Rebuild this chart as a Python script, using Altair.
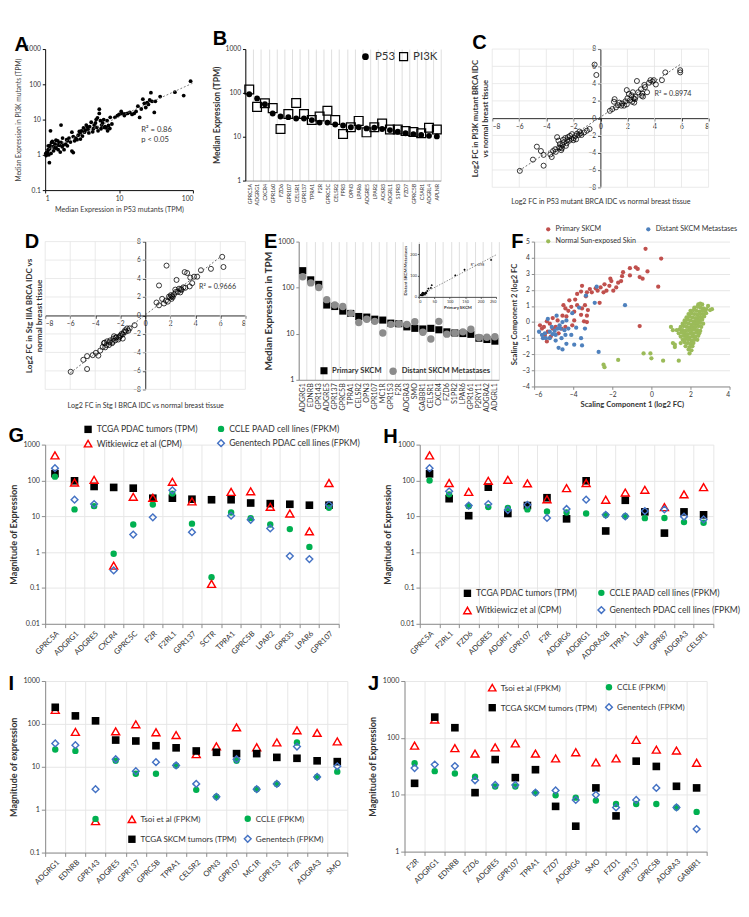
import altair as alt
import pandas as pd

# ---------------- Panel A (log-log scatter) ----------------
a_p53 = [93, 75, 57, 36, 27, 28, 31, 30, 21, 22, 24, 18, 20, 17, 19, 15, 13, 11, 10.7, 11.8,
         9.5, 8.8, 7.6, 10, 12, 14, 16, 25, 26, 23,
         6.9, 6.5, 7, 6.3, 5.4, 5.4, 5.1, 5.6, 5.8, 4.6, 4.2, 4, 3.8, 3.6, 3.4, 3.3, 3.1, 3, 2.8, 2.7,
         2.4, 2.3, 2.3, 2.4, 2.1, 2, 4.5, 5, 5.2, 4.8, 6, 7.2, 8, 7.5, 6.2, 4.4, 3.9, 3.5, 3.2, 2.9,
         2.6, 2.5, 3.7, 4.9, 5.7, 6.7, 3, 2.2,
         1.64, 1.72, 1.64, 1.56, 1.48, 1.41, 1.35, 1.28, 1.22, 1.16, 1.18, 1.1, 1.05, 1.03, 1.14, 1.8,
         1.9, 1.7, 1.6, 1.5, 1.45, 1.3, 1.25, 1.2, 1.1, 1.08, 1.15, 1.02, 1.06, 1.12, 1.35, 1.55, 1.75,
         1.95, 2.0, 1.4]
a_pi3k = [123, 48, 60, 45, 58, 33, 33, 16, 38, 29, 30, 24, 20, 17, 11.5, 14, 15, 15, 17, 13,
          13, 11.6, 11.6, 14, 14.5, 16, 15, 27, 36, 22,
          9.3, 6.3, 4.8, 6, 19.8, 15, 11.2, 9.3, 7, 7, 8.4, 6.3, 5.3, 7, 4.4, 5.8, 4.8, 4, 3.6, 2.7,
          3.3, 4.4, 1.28, 1.16, 3, 2.5, 5.5, 6, 4.8, 8, 8, 6.8, 7.5, 5.6, 10, 4.5, 4.2, 5, 3.4, 4.6,
          3, 2.5, 6.2, 10, 5.5, 5.8, 2.8, 2.3,
          7, 3, 2.25, 1.86, 2.5, 1.54, 2.05, 1.7, 2.25, 1.86, 4.8, 1.4, 1.06, 0.96, 0.6, 1.4,
          2, 1.7, 1.2, 1.4, 1.9, 1.3, 2.4, 1.1, 1.8, 1.2, 1.5, 1.1, 1.3, 1, 1.6, 2.2, 1.9,
          2.7, 1.8, 2.6]
a_note_text = ["R² = 0.86", "p < 0.05"]
a_note_x = [20, 20]
a_note_y = [5.0, 2.6]

# ---------------- Panel B ----------------
b_genes = ["GPRC5A", "ADGRG1", "CXCR4", "GPR160", "FZD6", "GPR107", "CELSR1", "GPR137", "TPRA1",
           "F2R", "GPRC5C", "CELSR2", "FPR3", "OPN3", "LPAR6", "ADGRE5", "LPAR2", "ACKR3", "ADGRL1",
           "S1PR3", "FZD7", "GPRC5B", "C5AR1", "ADGRL4", "APLNR"]
b_p53 = [93, 75, 55, 34, 29, 28, 26, 26, 24, 21, 21, 19, 18, 16.5, 16.5, 15.5, 16, 15, 14.2, 13,
         12, 11.5, 11, 10.5, 10.2]
b_pi3k = [120, 48, 58, 45, 15, 33, 59, 33, 24, 29, 39, 24, 11.5, 16.5, 23, 12.6, 16.5, 20, 14.7,
          14.7, 13.5, 12.8, 12, 16, 14.7]
b_series = ["P53", "PI3K"]

# ---------------- Panel C ----------------
c_x = [-5.96, -4.99, -4.7, -4.4, -4.2, -4.2, -3.7, -3.6, -3.5, -3.35, -3.2, -3.1, -3.05, -2.9, -2.8,
       -2.7, -2.55, -2.45, -2.4, -2.25, -2.15, -2.1, -1.97, -1.85, -1.73, -1.55, -1.4, -1.2, -1.0,
       -0.8, -2.95, -3.0, -2.75, -2.6, -2.3, -2.0, -1.8, -1.6, -1.45, -2.5, -3.3, -2.85,
       -0.43, -0.3, 0.7, 0.88, 1.0, 1.05, 1.15, 1.4, 1.55, 1.6, 1.75, 1.85, 1.95, 2.0, 2.1, 2.2, 2.3,
       2.4, 2.5, 2.55, 2.6, 2.7, 3.0, 3.1, 3.15, 3.25, 3.3, 3.45, 3.6, 3.7, 3.85, 3.95, 4.1, 4.55,
       4.8, 5.9, 5.9, 2.8, 2.35, 1.95, 1.3, 2.45, 3.05]
c_y = [-6.1, -4.8, -3.3, -3.8, -4.25, -5.5, -4.2, -4.5, -3.8, -3.6, -2.2, -2.6, -3.4, -3.7, -3.1,
       -2.8, -3.2, -2.55, -2.2, -2.05, -2.4, -1.85, -2.3, -2.05, -1.8, -1.55, -1.95, -1.65, -1.45,
       -1.25, -3.4, -3.0, -2.5, -2.3, -2.6, -2.55, -2.45, -1.95, -1.75, -2.9, -3.9, -3.5,
       6.2, 5.0, 0.85, 1.05, 1.9, 2.2, 1.25, 1.8, 1.45, 1.7, 1.45, 1.95, 3.25, 2.3, 2.8, 2.1, 2.65,
       3.0, 1.8, 2.2, 2.45, 4.3, 3.35, 2.85, 2.5, 3.85, 3.6, 3.0, 4.1, 4.4, 4.25, 4.4, 3.9, 4.4,
       5.3, 5.55, 5.3, 3.0, 1.9, 1.6, 1.5, 2.3, 2.6]
c_note = ["R² = 0.8974"]
c_note_x = [4.0]
c_note_y = [2.8]

# ---------------- Panel D ----------------
d_x = [-5.96, -4.95, -4.65, -4.65, -4.2, -3.95, -3.75, -3.6, -3.4, -3.3, -3.2, -3.05, -2.9, -2.8,
       -2.65, -2.55, -2.4, -2.3, -2.15, -2.05, -1.9, -1.8, -1.7, -1.6, -1.45, -1.35, -0.85, -3.1,
       -2.85, -2.6, -2.35, -2.1, -1.8, -1.55, -3.25, -2.5, -2.0, -1.25,
       0.9, 1.1, 1.1, 1.35, 1.5, 1.7, 1.8, 1.9, 2.0, 2.1, 2.15, 2.3, 2.4, 2.5, 2.6, 2.7, 2.8, 2.9,
       3.05, 3.15, 3.2, 3.35, 3.55, 3.75, 3.6, 3.9, 4.15, 4.45, 5.25, 6.15, 6.25, 2.2, 2.45, 2.85,
       1.65, 2.05]
d_y = [-6.1, -4.8, -4.4, -5.8, -4.3, -4.05, -4.35, -3.8, -3.4, -3.0, -3.45, -2.8, -3.2, -2.7,
       -3.0, -2.5, -2.7, -2.35, -2.6, -2.3, -2.0, -2.5, -1.8, -1.6, -1.4, -1.65, -1.05, -3.2,
       -2.9, -2.85, -2.4, -2.4, -2.05, -1.75, -2.95, -2.25, -2.2, -1.4,
       1.4, 1.1, 3.25, 1.8, 1.3, 5.4, 1.5, 2.05, 1.95, 1.8, 2.1, 2.3, 2.8, 3.85, 2.55, 2.9, 2.5, 2.75,
       3.05, 4.7, 3.0, 4.6, 3.15, 3.5, 4.1, 4.2, 4.2, 4.9, 5.05, 6.35, 5.25, 2.0, 2.55, 2.85,
       1.6, 2.2]
d_note = ["R² = 0.9666"]
d_note_x = [4.3]
d_note_y = [3.1]
fc_grid = [-8, -6, -4, -2, 2, 4, 6, 8]

# ---------------- Panel E ----------------
e_genes = ["ADGRG1", "EDNRB", "GPR143", "ADGRE5", "GPR137", "GPRC5B", "TPRA1", "CELSR2", "OPN3",
           "GPR107", "MC1R", "GPR153", "F2R", "ADGRA3", "SMO", "GABBR1", "CELSR1", "CXCR4", "FZD6",
           "S1PR2", "LPAR6", "GPR161", "P2RY11", "ADGRA2", "ADGRL1"]
e_primary = [234, 148, 118, 42, 39, 31, 27.6, 23.7, 23, 20.7, 19.8, 17, 16.5, 14.1, 13.1, 12.7,
             13.1, 12.2, 11, 10.4, 10.1, 9.7, 8, 7.5, 6.9]
e_distant = [173, 127, 101, 55, 42, 39, 27.6, 17.5, 20.7, 18.6, 10.4, 16, 16.5, 16, 18.3, 10.8,
             7.7, 18.6, 9.8, 10.4, 11, 12.5, 8.3, 8.4, 8.6]
e_series = ["Primary SKCM", "Distant SKCM Metastases"]
e_inset_note = ["R² = 0.98"]
e_inset_note_x = [190]
e_inset_note_y = [150]

# ---------------- Panel F ----------------
f_groups = ["Primary SKCM", "Distant SKCM Metastases", "Normal Sun-exposed Skin"]
f_red_x = [-0.3, 0.5, -0.8, -0.7, -1.1, -1.45, -1.1, -0.2, -0.6, -0.45, -1.5, -1.55, -1.7, -2.1,
           -2.05, -2.15, -2.4, -2.3, -2.45, -2.6, -2.75, -2.85, -3.15, -3.05, -3.3, -3.55, -3.6,
           -3.8, -3.35, -2.65, -1.95, -1.8, 0.35, -0.6, -4.5, -4.2, -3.9, -4.1, -3.8, -3.55, -3.4,
           -3.25, -3.3, -3.6, -3.95, -4.25, -4.4, -4.55, -4.8, -4.35, -3.95, -3.45, -3.3, -4.05,
           -4.4, -4.9, -5.2, -5.35, -5.05, -5.5, -5.7, -5.3, -5.15, -5.35, -4.6, -4.75, -5.05,
           -5.45, -5.6]
f_red_y = [4.55, 3.95, 3.4, 3.3, 3.35, 3.1, 2.9, 3.15, 2.8, 2.7, 2.85, 2.55, 2.45, 2.7, 2.55, 2.25,
           2.35, 1.95, 1.85, 2.15, 1.95, 2.1, 2.05, 1.85, 1.85, 2.25, 1.9, 1.75, 1.6, 1.2, 1.95,
           2.15, 2.2, -0.25, 1.05, 1.35, 1.4, 0.95, 1.05, 0.85, 1.05, 0.75, 0.4, 0.45, 0.65, 0.7,
           0.85, 0.4, 0.1, 0.35, 0.1, 0.05, 0.0, -0.2, -0.3, -0.3, -0.1, 0.05, 0.25, -0.3, -0.2,
           -0.6, -0.9, -1.2, -0.4, -0.7, -0.4, -0.8, -0.4]
f_blue_x = [-2.8, -1.35, -2.9, -3.35, -3.7, -4.05, -3.4, -3.85, -3.95, -3.55, -2.7, -4.35, -4.55,
            -4.75, -4.4, -4.25, -4.35, -4.55, -4.65, -4.8, -4.9, -4.9, -5.05, -5.2, -5.2, -5.45,
            -5.6, -5.75, -5.55, -5.4, -5.3, -4.85, -4.7, -4.45, -4.1, -4.6, -3.6, -5.1, -4.95]
f_blue_y = [2.2, 1.05, 1.2, 1.65, 0.9, 0.55, -0.4, -0.35, -1.4, -1.45, -1.85, -1.35, -1.7, -1.6,
            -0.8, -0.4, 0.1, 0.0, -0.4, -0.4, -0.8, -1.15, -0.75, -0.6, -1.0, -0.7, -0.8, -0.6,
            -1.0, -1.0, 0.2, 0.4, -0.2, -0.5, -0.8, -1.0, -1.0, -0.3, -0.55]
f_green_x = [2.4, 2.5, 2.6,
             2.2, 2.35, 2.5, 2.65, 2.8,
             2.0, 2.15, 2.3, 2.45, 2.6, 2.75, 3.0,
             1.9, 2.05, 2.2, 2.35, 2.5, 2.65, 2.8,
             1.8, 1.95, 2.1, 2.25, 2.4, 2.55, 2.7,
             1.7, 1.85, 2.0, 2.15, 2.3, 2.45, 2.6,
             1.6, 1.75, 1.9, 2.05, 2.2, 2.35, 2.5, 2.65,
             1.5, 1.65, 1.8, 1.95, 2.1, 2.25, 2.4, 2.55,
             1.3, 1.45, 1.6, 1.75, 1.9, 2.05, 2.2, 2.35, 2.5,
             1.4, 1.55, 1.7, 1.85, 2.0, 2.15, 2.3, 2.45,
             1.5, 1.65, 1.8, 1.95, 2.1, 2.25, 2.4,
             1.6, 1.75, 1.9, 2.05, 2.2, 2.35,
             1.5, 1.7, 1.85, 2.0, 2.15,
             1.75, 1.95, 2.1,
             1.9, 2.05,
             1.95,
             -2.45, -2.4, -1.7, -0.4, -0.05, 0.0, 0.6, 1.4, 1.1, 1.2, 1.1, 1.0, 3.1, 2.9, 1.2]
f_green_y = [1.1, 1.15, 1.1,
             0.9, 0.95, 0.9, 0.85, 0.8,
             0.7, 0.75, 0.7, 0.65, 0.7, 0.7, 0.75,
             0.5, 0.55, 0.5, 0.45, 0.5, 0.5, 0.55,
             0.3, 0.35, 0.3, 0.25, 0.3, 0.3, 0.35,
             0.1, 0.15, 0.1, 0.05, 0.1, 0.1, 0.15,
             -0.1, -0.05, -0.1, -0.15, -0.1, -0.1, -0.05, -0.1,
             -0.3, -0.25, -0.3, -0.35, -0.3, -0.3, -0.25, -0.3,
             -0.5, -0.45, -0.5, -0.55, -0.5, -0.5, -0.45, -0.5, -0.55,
             -0.7, -0.65, -0.7, -0.75, -0.7, -0.7, -0.65, -0.7,
             -0.9, -0.85, -0.9, -0.95, -0.9, -0.9, -0.85,
             -1.1, -1.05, -1.1, -1.15, -1.1, -1.1,
             -1.3, -1.25, -1.3, -1.35, -1.3,
             -1.5, -1.55, -1.5,
             -1.7, -1.75,
             -1.95,
             -2.65, -2.8, -2.35, -1.95, -1.95, -2.25, -2.4, -2.4, -1.3, -1.55, -0.5, -0.3, 0.8, 1.0, -1.4]

# ---------------- Panels G / H (PDAC) ----------------
pdac_series = ["TCGA PDAC tumors (TPM)", "CCLE PAAD cell lines (FPKM)",
               "Witkiewicz et al (CPM)", "Genentech PDAC cell lines (FPKM)"]
g_genes = ["GPRC5A", "ADGRG1", "ADGRE5", "CXCR4", "GPRC5C", "F2R", "F2RL1", "GPR137", "SCTR",
           "TPRA1", "GPRC5B", "LPAR2", "GPR35", "LPAR6", "GPR107"]
g_tcga = [155, 98, 68, 64, 61, 32, 32, 30, 29, 29, 23.5, 22.6, 21.7, 20.4, 20.4]
g_ccle = [128, 15.6, 19.2, 0.9, 5.9, 21.3, 43, 6.25, 0.2, 12.8, 8.9, 5.9, 4.4, 1.4, 17.4]
g_witk = [500, 88, 104, 0.42, 35, 33, 92, 26, 0.13, 48, 50, 18.4, 12, 3.8, 85]
g_gene = [220, 29, 22, 0.31, 3.1, 9.4, 53, 3.6, None, 10.4, 8, 4.6, 0.78, 0.64, 21]

h_genes = ["GPRC5A", "F2RL1", "FZD6", "ADGRE5", "ADGRF1", "GPR107", "F2R", "ADGRG6", "ADGRG1",
           "ADORA2B", "TPRA1", "LGR4", "GPR87", "ADGRA3", "CELSR1"]
h_tcga = [153, 31, 10.4, 65, 12, 20, 33, 8.5, 98, 3.9, 28, 13.3, 3.4, 13.3, 11]
h_ccle = [100, 41, 19.2, 18, 17, 15.6, 13.6, 12.8, 12, 10.8, 10, 8.9, 9, 6.9, 6.6]
h_witk = [500, 85, 48, 98, 104, 83, 30, 61, 85, 29, 46, 55, 18, 41, 65]
h_gene = [220, 50, 20, 22, 15, 21, 9, 16, 29, 11, 10, 14, 15.6, 9.8, 8.2]

# ---------------- Panels I / J (SKCM) ----------------
skcm_series = ["Tsoi et al (FPKM)", "CCLE (FPKM)", "TCGA SKCM tumors (TPM)", "Genentech (FPKM)"]
i_genes = ["ADGRG1", "EDNRB", "GPR143", "ADGRE5", "GPR137", "GPRC5B", "TPRA1", "CELSR2", "OPN3",
           "GPR107", "MC1R", "GPR153", "F2R", "ADGRA3", "SMO"]
i_tsoi = [212, 65, 0.54, 67, 98, 64, 55, 19.7, 30, 83, 28.6, 37, 71, 62, 39]
i_ccle = [25.4, 23.5, 0.61, 13.8, 6.9, 6.9, 10.8, 2.9, 2.0, 13.8, 3, 4, 37, 5.8, 7.7]
i_tcga = [244, 154, 118, 42, 40, 31, 27.7, 23.4, 21.8, 20.3, 20.3, 16.6, 15.8, 13.8, 13.2]
i_gene = [35, 32, 3, 15, 7.9, 12.8, 10.8, 4, 2, 15, 3, 4, 29.6, 5.8, 10.3]

j_genes = ["F2R", "ADGRG1", "EDNRB", "FZD6", "ADGRE5", "GPR107", "TPRA1", "FZD7", "ADGRG6", "SMO",
           "FZD1", "GPR137", "GPRC5B", "ADGRA3", "GABBR1"]
j_tsoi = [73, 210, 66, 53, 68, 80, 53, 43.5, 56, 37, 43.5, 92, 62, 60, 36.6]
j_ccle = [35.8, 26, 23.6, 20.8, 14, 14, 10.8, 9.8, 8.9, 7.9, 6.9, 6.9, 6.9, 6, 5]
j_tcga = [15.9, 232, 151, 10.9, 41.6, 20, 27.6, 6.25, 2.8, 13.2, 4.25, 39, 31.5, 14.1, 13.2]
j_gene = [29.5, 34, 32, 18, 14.9, 14.9, 10.9, 11.9, 8.1, 10, 6, 8.1, 13.2, 6, 2.5]

# ======================= styling constants =======================
RED, GREEN, BLUE = "#FF0000", "#00B050", "#4472C4"
GRID = "#DDDDDD"
AXC = "#888888"
TXT = "#333333"
IND = dict(color="independent", fill="independent", stroke="independent",
           shape="independent", size="independent")


def letter(t, offset=0):
    return alt.TitleParams(t, anchor="start", frame="bounds", fontSize=21,
                           font="Liberation Sans", fontWeight="bold", color="black",
                           offset=offset)


def one_series(df, x, y, name, shape, color, filled, size, lx, ly, fs, sw=1.4, bold=False,
               ssize=None):
    leg = alt.Legend(title=None, orient="none", legendX=lx, legendY=ly, labelFontSize=fs,
                     labelColor=TXT, labelLimit=400, padding=0,
                     symbolSize=ssize or size, symbolStrokeWidth=sw,
                     labelFontWeight="bold" if bold else "normal")
    return alt.Chart(df).mark_point(filled=filled, size=size, strokeWidth=sw, opacity=1).encode(
        x=x, y=y,
        color=alt.Color("series:N", scale=alt.Scale(domain=[name], range=[color]), legend=leg),
        shape=alt.Shape("series:N", scale=alt.Scale(domain=[name], range=[shape]), legend=leg),
    )


def series_df(genes, name, vals):
    rows = [{"gene": g, "series": name, "val": v} for g, v in zip(genes, vals) if v is not None]
    return pd.DataFrame(rows)


# ---------------- A ----------------
dfA = pd.DataFrame({"x": a_p53, "y": a_pi3k})
axA = dict(domainColor="black", tickColor="black", labelFontSize=7, labelColor=TXT,
           titleFontWeight="normal", titleColor="#404040", grid=False,
           tickSize=3, labelPadding=2, titlePadding=4)
ptsA = alt.Chart(dfA).mark_circle(size=16, color="black", opacity=1).encode(
    x=alt.X("x:Q", scale=alt.Scale(type="log", domain=[1, 100]),
            axis=alt.Axis(values=[1, 10, 100], format="~g", titleFontSize=7.5,
                          title="Median Expression in P53 mutants (TPM)", **axA)),
    y=alt.Y("y:Q", scale=alt.Scale(type="log", domain=[0.1, 1000]),
            axis=alt.Axis(values=[0.1, 1, 10, 100, 1000], format="~g", titleFontSize=7,
                          title="Median Expression in PI3K mutants (TPM)", **axA)),
)
trendA = alt.Chart(dfA).transform_regression("x", "y", method="pow", extent=[1, 100]).mark_line(
    color="#666666", strokeDash=[2, 2], strokeWidth=0.9).encode(x="x:Q", y="y:Q")
noteA = alt.Chart(pd.DataFrame({"x": a_note_x, "y": a_note_y, "t": a_note_text})).mark_text(
    align="left", fontSize=8, color=TXT).encode(x="x:Q", y="y:Q", text="t:N")
A = alt.layer(ptsA, trendA, noteA).properties(width=155, height=148, title=letter("A", -10))

# ---------------- B ----------------
xB = alt.X("gene:N", sort=b_genes, scale=alt.Scale(paddingInner=0, paddingOuter=0),
           axis=alt.Axis(title=None, labelAngle=-90, labelFontSize=5.5, tickBand="extent",
                         grid=True, gridColor=GRID, domainColor=AXC, ticks=False,
                         labelColor=TXT, labelPadding=3))
yB = alt.Y("val:Q", scale=alt.Scale(type="log", domain=[1, 1000]),
           axis=alt.Axis(values=[1, 10, 100, 1000], format="~g",
                         title="Median Expression (TPM)", grid=False, titleFontSize=9,
                         titleFontWeight="bold", titleColor=TXT, labelFontSize=7,
                         labelColor=TXT, domainColor="black", tickColor="black", tickSize=3,
                         titlePadding=4, labelPadding=2))
B = alt.layer(
    one_series(series_df(b_genes, b_series[0], b_p53), xB, yB, b_series[0], "circle", "black",
               True, 38, 120, 2, 12, ssize=50),
    one_series(series_df(b_genes, b_series[1], b_pi3k), xB, yB, b_series[1], "square", "black",
               False, 85, 160, 2, 12, sw=1.3, ssize=70),
).resolve_scale(**IND).properties(width=205, height=138, title=letter("B", -4))


# ---------------- C / D ----------------
def fc_panel(xs, ys, note, nx, ny, w, h, xtitle, ytitle, let, toff, xfs, yfs, xtp, ytp):
    df = pd.DataFrame({"x": xs, "y": ys})
    common = dict(grid=False, domainColor="#222222", tickColor="#222222",
                  labelFontSize=7, labelColor=TXT, tickSize=3, title=None)
    xs_ = alt.Scale(domain=[-8, 8], nice=False)
    ys_ = alt.Scale(domain=[-8, 8], nice=False)
    bare = dict(labels=False, ticks=False, domain=False, grid=False, titleColor=TXT)
    gx = alt.Chart(pd.DataFrame({"x": fc_grid})).mark_rule(
        color="#E4E4E4", strokeWidth=0.8).encode(
        x=alt.X("x:Q", scale=xs_,
                axis=alt.Axis(orient="bottom", title=xtitle, titleFontSize=xfs,
                              titleFontWeight="normal", titlePadding=xtp, **bare)))
    gy = alt.Chart(pd.DataFrame({"y": fc_grid})).mark_rule(
        color="#E4E4E4", strokeWidth=0.8).encode(
        y=alt.Y("y:Q", scale=ys_,
                axis=alt.Axis(orient="left", title=ytitle, titleFontSize=yfs,
                              titleFontWeight="bold", titlePadding=ytp, **bare)))
    pts = alt.Chart(df).mark_point(shape="circle", filled=False, color="black", size=28,
                                   strokeWidth=0.8, opacity=1).encode(
        x=alt.X("x:Q", scale=xs_,
                axis=alt.Axis(values=list(range(-8, 9, 2)), offset=-h / 2, orient="bottom",
                              **common)),
        y=alt.Y("y:Q", scale=ys_,
                axis=alt.Axis(values=list(range(-8, 9, 2)), offset=-w / 2, orient="left",
                              **common)),
    )
    trend = alt.Chart(df).transform_regression("x", "y", extent=[-6, 6]).mark_line(
        color="#555555", strokeDash=[2, 2], strokeWidth=0.9).encode(
        x=alt.X("x:Q", axis=None), y=alt.Y("y:Q", axis=None))
    txt = alt.Chart(pd.DataFrame({"x": nx, "y": ny, "t": note})).mark_text(
        align="left", fontSize=7.5, color=TXT).encode(
        x=alt.X("x:Q", axis=None), y=alt.Y("y:Q", axis=None), text="t:N")
    return alt.layer(gx, gy, pts, trend, txt).resolve_axis(
        x="independent", y="independent").properties(width=w, height=h,
                                                      title=letter(let, toff))


C = fc_panel(c_x, c_y, c_note, c_note_x, c_note_y, 227, 145,
             "Log2 FC in P53 mutant BRCA IDC vs normal breast tissue",
             ["Log2 FC in PI3K mutant BRCA IDC", "vs normal breast tissue"], "C", -8,
             7.5, 8, 11, 3)
D = fc_panel(d_x, d_y, d_note, d_note_x, d_note_y, 210, 155,
             "Log2 FC in Stg I BRCA IDC vs normal breast tissue",
             ["Log2 FC in Stg IIIA BRCA IDC vs", "normal breast tissue"], "D", -15,
             7.5, 8.5, 13, 2)

# ---------------- E ----------------
EW, EH = 210, 145
xE = alt.X("gene:N", sort=e_genes, scale=alt.Scale(paddingInner=0, paddingOuter=0),
           axis=alt.Axis(title=None, labelAngle=-90, labelFontSize=7.5, tickBand="extent",
                         grid=True, gridColor=GRID, domainColor=AXC, ticks=False,
                         labelColor=TXT, labelPadding=3, orient="bottom"))
yE = alt.Y("val:Q", scale=alt.Scale(type="log", domain=[1, 1000]),
           axis=alt.Axis(values=[1, 10, 100, 1000], format="~g", orient="left",
                         title="Median Expression in TPM", grid=False, titleFontSize=10.5,
                         titleFontWeight="bold", titleColor=TXT, labelFontSize=7.5,
                         labelColor=TXT, domainColor=AXC, tickColor=AXC, tickSize=3,
                         titlePadding=4, labelPadding=2))
mainE = alt.layer(
    one_series(series_df(e_genes, e_series[0], e_primary), xE, yE, e_series[0], "square",
               "black", True, 55, 22, 131, 8, bold=True),
    one_series(series_df(e_genes, e_series[1], e_distant), xE, yE, e_series[1], "circle",
               "#8C8C8C", True, 60, 94, 131, 8, bold=True),
).resolve_scale(**IND)
dfEi = pd.DataFrame({"p": e_primary, "d": e_distant})
insX = alt.Scale(domain=[0, 250], range=[126, 207], nice=False)
insY = alt.Scale(domain=[0, 250], range=[58, 2], nice=False)
insAx = dict(labelFontSize=4, titleFontSize=4.5, titleFontWeight="bold", tickSize=1.5,
             domainColor="#444444", tickColor="#444444", labelColor=TXT, titleColor=TXT,
             grid=False, labelPadding=1, titlePadding=2)
insPts = alt.Chart(dfEi).mark_point(shape="diamond", filled=True, color="black", size=6,
                                    opacity=1).encode(
    x=alt.X("p:Q", scale=insX,
            axis=alt.Axis(orient="bottom", offset=-(EH - 58), values=[0, 50, 100, 150, 200, 250],
                          title="Primary SKCM", **insAx)),
    y=alt.Y("d:Q", scale=insY,
            axis=alt.Axis(orient="left", offset=-126, values=[0, 50, 100, 150, 200, 250],
                          title="Distant SKCM Metastases", **insAx)),
)
insTrend = alt.Chart(dfEi).transform_regression("p", "d", extent=[0, 250]).mark_line(
    color="#555555", strokeDash=[1.5, 1.5], strokeWidth=0.7).encode(
    x=alt.X("p:Q", scale=insX), y=alt.Y("d:Q", scale=insY))
insNote = alt.Chart(pd.DataFrame({"x": e_inset_note_x, "y": e_inset_note_y,
                                  "t": e_inset_note})).mark_text(fontSize=3.5, color=TXT).encode(
    x=alt.X("x:Q", scale=insX), y=alt.Y("y:Q", scale=insY), text="t:N")
inset = alt.layer(insPts, insTrend, insNote)
E = alt.layer(mainE, inset).resolve_scale(x="independent", y="independent", **IND).properties(
    width=EW, height=EH, title=letter("E", -15))

# ---------------- F ----------------
dfF = pd.DataFrame({
    "x": f_red_x + f_blue_x + f_green_x,
    "y": f_red_y + f_blue_y + f_green_y,
    "grp": [f_groups[0]] * len(f_red_x) + [f_groups[1]] * len(f_blue_x)
           + [f_groups[2]] * len(f_green_x)})
axF = dict(labelFontSize=7, labelColor=TXT, titleFontSize=8, titleFontWeight="bold",
           titleColor=TXT, domainColor=AXC, tickColor=AXC, tickSize=3, labelPadding=2,
           titlePadding=3)
F = alt.Chart(dfF).mark_circle(size=20, opacity=1).encode(
    x=alt.X("x:Q", scale=alt.Scale(domain=[-6, 4], nice=False),
            axis=alt.Axis(values=[-6, -4, -2, 0, 2, 4], title="Scaling Component 1 (log2 FC)",
                          grid=False, **axF)),
    y=alt.Y("y:Q", scale=alt.Scale(domain=[-4, 5], nice=False),
            axis=alt.Axis(values=list(range(-4, 6)), title="Scaling Component 2 (log2 FC",
                          grid=True, gridColor="#E6E6E6", **axF)),
    color=alt.Color("grp:N", scale=alt.Scale(domain=f_groups,
                                             range=["#C0504D", "#4F81BD", "#9BBB59"]),
                    legend=alt.Legend(title=None, orient="none", legendX=11, legendY=-17,
                                      columns=2, direction="horizontal", labelFontSize=7.5,
                                      labelColor=TXT, symbolSize=20, rowPadding=4,
                                      columnPadding=8, padding=0)),
).properties(width=205, height=152, title=letter("F", -28))


# ---------------- G, H, I, J ----------------
def expr_panel(let, toff, genes, series, lists, shapes, colors, filleds, sizes, ydom, yvals,
               ytitle, w, h, legpos, lfs):
    x = alt.X("gene:N", sort=genes, scale=alt.Scale(paddingInner=0, paddingOuter=0),
              axis=alt.Axis(title=None, labelAngle=-45, labelFontSize=8, tickBand="extent",
                            grid=True, gridColor="#E6E6E6", domainColor=AXC, tickColor=AXC,
                            tickSize=4, labelColor=TXT, labelPadding=2))
    y = alt.Y("val:Q", scale=alt.Scale(type="log", domain=ydom),
              axis=alt.Axis(values=yvals, format="~g", title=ytitle, grid=True,
                            gridColor="#E6E6E6", titleFontSize=9.5, titleFontWeight="bold",
                            titleColor=TXT, labelFontSize=7.5, labelColor=TXT,
                            domainColor=AXC, tickColor=AXC, tickSize=4, titlePadding=5,
                            labelPadding=2))
    layers = []
    for name, vals, shp, col, fil, sz, (lx, ly) in zip(series, lists, shapes, colors, filleds,
                                                        sizes, legpos):
        layers.append(one_series(series_df(genes, name, vals), x, y, name, shp, col, fil, sz,
                                 lx, ly, lfs, sw=1.5, ssize=min(sz, 60)))
    return alt.layer(*layers).resolve_scale(**IND).properties(width=w, height=h,
                                                              title=letter(let, toff))


pdac_shapes = ["square", "circle", "triangle-up", "diamond"]
pdac_colors = ["black", GREEN, RED, BLUE]
pdac_filled = [True, True, False, False]
pdac_sizes = [64, 45, 70, 50]
G = expr_panel("G", -22, g_genes, pdac_series, [g_tcga, g_ccle, g_witk, g_gene], pdac_shapes,
               pdac_colors, pdac_filled, pdac_sizes, [0.01, 1000],
               [0.01, 0.1, 1, 10, 100, 1000], "Magnitude of Expression", 308, 188,
               [(40, -21), (180, -21), (40, -6), (180, -6)], 9)
H = expr_panel("H", -6, h_genes, pdac_series, [h_tcga, h_ccle, h_witk, h_gene], pdac_shapes,
               pdac_colors, pdac_filled, pdac_sizes, [0.01, 1000],
               [0.01, 0.1, 1, 10, 100, 1000], "Magnitude of Expression", 308, 188,
               [(45, 151), (186, 151), (45, 169), (186, 169)], 9)
skcm_shapes = ["triangle-up", "circle", "square", "diamond"]
skcm_colors = [RED, GREEN, "black", BLUE]
skcm_filled = [False, True, True, False]
skcm_sizes = [70, 45, 64, 50]
I = expr_panel("I", -17, i_genes, skcm_series, [i_tsoi, i_ccle, i_tcga, i_gene], skcm_shapes,
               skcm_colors, skcm_filled, skcm_sizes, [0.1, 1000], [0.1, 1, 10, 100, 1000],
               "Magnitude of expression", 317, 180,
               [(86, 140), (208, 140), (86, 161), (208, 161)], 8.5)
J = expr_panel("J", -17, j_genes, skcm_series, [j_tsoi, j_ccle, j_tcga, j_gene], skcm_shapes,
               skcm_colors, skcm_filled, skcm_sizes, [1, 1000], [1, 10, 100, 1000],
               "Magnitude of Expression", 317, 179,
               [(87, 2), (210, 2), (87, 23), (210, 23)], 8.5)


def hc(*charts, spacing):
    return alt.hconcat(*charts, spacing=spacing).resolve_scale(**IND).resolve_legend(**IND)


row1 = hc(hc(A, B, spacing=18), C, spacing=29)
row2 = hc(hc(D, E, spacing=18), F, spacing=12)
row3 = hc(G, H, spacing=23)
row4 = hc(I, J, spacing=20)
chart = alt.vconcat(row1, row2, row3, row4, spacing=13).resolve_scale(**IND).resolve_legend(
    **IND).configure(font="Lato", padding=0).configure_view(stroke=None)

chart.save("out.html", embed_options={"renderer": "svg", "actions": False})
